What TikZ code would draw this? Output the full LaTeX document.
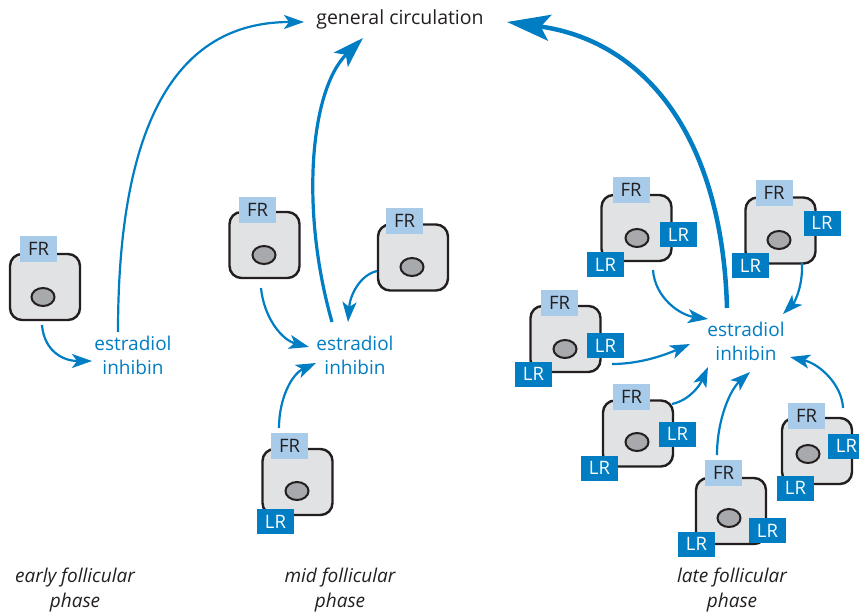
\documentclass[tikz,border=0pt]{standalone}
\usepackage{fontspec}
\setmainfont{Open Sans}
\usetikzlibrary{arrows.meta,shapes.geometric}
\definecolor{hblue}{RGB}{0,125,195}
\definecolor{frblue}{RGB}{168,203,233}
\definecolor{cellgray}{RGB}{225,226,227}
\definecolor{nucgray}{RGB}{167,169,172}
\definecolor{ink}{RGB}{35,31,32}
\begin{document}
\begin{tikzpicture}[x=1pt,y=-1pt,
  cellbox/.style={draw=ink, line width=2.4pt, fill=cellgray, rounded corners=12pt, minimum width=70pt, minimum height=66pt, inner sep=0pt},
  nuc/.style={draw=ink, line width=2pt, fill=nucgray, ellipse, minimum width=23pt, minimum height=18pt, inner sep=0pt},
  frbox/.style={fill=frblue, text=ink, minimum width=37pt, minimum height=26pt, inner sep=0pt, font=\fontsize{18.5}{18.5}\selectfont},
  lrbox/.style={fill=hblue, text=white, minimum width=37pt, minimum height=25pt, inner sep=0pt, font=\fontsize{18.5}{18.5}\selectfont},
  hormone/.style={text=hblue, align=center, inner sep=0pt, font=\fontsize{19}{24}\selectfont},
  phase/.style={text=ink, align=center, inner sep=0pt, font=\fontsize{19}{25}\selectfont\itshape},
  flow/.style={draw=hblue, line width=2.2pt, -{Stealth[length=20pt,width=14pt,inset=5pt]}},
  midflow/.style={draw=hblue, line width=3.2pt, -{Stealth[length=31pt,width=20pt,inset=7pt]}},
  lateflow/.style={draw=hblue, line width=4.5pt, -{Stealth[length=43pt,width=26pt,inset=9pt]}}
]
\useasboundingbox (0,0) rectangle (859,615);

% ---- title
\node[text=ink, inner sep=0pt, font=\fontsize{19.5}{19.5}\selectfont] (gc) at (400,19) {general circulation};

% ---- early follicular
\node[cellbox] (cE) at (45,287) {};
\node[nuc] (nE) at (43,297) {};
\node[frbox] (fE) at (38.5,249) {FR};
\node[hormone] (hE) at (133,355) {estradiol\\inhibin};

% ---- mid follicular
\node[cellbox] (cMA) at (264.5,245) {};
\node[nuc] (nMA) at (264,255) {};
\node[frbox] (fMA) at (257.5,209.5) {FR};

\node[cellbox] (cMB) at (413,257.5) {};
\node[nuc] (nMB) at (412,267) {};
\node[frbox] (fMB) at (404.5,220.5) {FR};

\node[cellbox] (cMC) at (297.5,482) {};
\node[nuc] (nMC) at (297,491) {};
\node[frbox] (fMC) at (289.5,446) {FR};
\node[lrbox] (lMC) at (275.5,521.5) {LR};

\node[hormone] (hM) at (355,355) {estradiol\\inhibin};

% ---- late follicular
\node[cellbox] (cL1) at (636.5,228) {};
\node[nuc] (nL1) at (637,238) {};
\node[frbox] (fL1) at (631,189.5) {FR};
\node[lrbox] (rL1) at (678.5,234.5) {LR};
\node[lrbox] (bL1) at (605.5,264.5) {LR};

\node[cellbox] (cL2) at (780.5,230.5) {};
\node[nuc] (nL2) at (779,240) {};
\node[frbox] (fL2) at (774,193) {FR};
\node[lrbox] (rL2) at (822,223) {LR};
\node[lrbox] (bL2) at (750.5,265.5) {LR};

\node[cellbox] (cL3) at (565.5,339) {};
\node[nuc] (nL3) at (565,349) {};
\node[frbox] (fL3) at (559.5,303) {FR};
\node[lrbox] (rL3) at (605.5,345.5) {LR};
\node[lrbox] (bL3) at (533.5,374) {LR};

\node[cellbox] (cL4) at (638,433.5) {};
\node[nuc] (nL4) at (637,442) {};
\node[frbox] (fL4) at (631.5,396.5) {FR};
\node[lrbox] (rL4) at (677.5,434) {LR};
\node[lrbox] (bL4) at (599.5,468) {LR};

\node[cellbox] (cL5) at (731,511) {};
\node[nuc] (nL5) at (729,518) {};
\node[frbox] (fL5) at (723.5,473) {FR};
\node[lrbox] (rL5) at (767.5,530.5) {LR};
\node[lrbox] (bL5) at (696.5,544) {LR};

\node[cellbox] (cL6) at (817,451) {};
\node[nuc] (nL6) at (808,454) {};
\node[frbox] (fL6) at (806.5,416) {FR};
\node[lrbox] (rL6) at (846.5,446) {LR};
\node[lrbox] (bL6) at (795.5,488) {LR};

\node[hormone] (hL) at (746,341) {estradiol\\inhibin};

% ---- phase labels
\node[phase] (pE) at (75,590) {early follicular\\phase};
\node[phase] (pM) at (340,590) {mid follicular\\phase};
\node[phase] (pL) at (732,590) {late follicular\\phase};

% ---- connector end points
\coordinate (sE1) at (42,325);   \coordinate (tE1) at (92,361);
\coordinate (sE2) at (118,332);  \coordinate (tE2) at (304,22);
\coordinate (sMA) at (261,288);  \coordinate (tMA) at (309,347);
\coordinate (sMB) at (377,271);  \coordinate (tMB) at (348,322);
\coordinate (sMC) at (279,428);  \coordinate (tMC) at (316,363);
\coordinate (sMT) at (332,322);  \coordinate (tMT) at (363,38);
\coordinate (sL1) at (653,270);  \coordinate (tL1) at (708,319);
\coordinate (sL2) at (802,263);  \coordinate (tL2) at (783,314);
\coordinate (sL3) at (612,364);  \coordinate (tL3) at (690,344);
\coordinate (sL4) at (672,404);  \coordinate (tL4) at (708,367);
\coordinate (sL5) at (717,455);  \coordinate (tL5) at (750,372);
\coordinate (sL6) at (843,408);  \coordinate (tL6) at (790,357);
\coordinate (sLT) at (727,308);  \coordinate (tLT) at (507,22);

% ---- connectors
\draw[flow] (sE1) .. controls (44,350) and (62,361) .. (tE1);
\draw[flow] (sE2) .. controls (118,100) and (190,22) .. (tE2);

\draw[flow] (sMA) .. controls (264,318) and (282,340) .. (tMA);
\draw[flow] (sMB) .. controls (360,275) and (350,295) .. (tMB);
\draw[flow] (sMC) .. controls (279,398) and (292,374) .. (tMC);
\draw[midflow] (sMT) .. controls (300,210) and (310,90) .. (tMT);

\draw[flow] (sL1) .. controls (655,298) and (680,315) .. (tL1);
\draw[flow] (sL2) .. controls (803,285) and (795,302) .. (tL2);
\draw[flow] (sL3) .. controls (640,364) and (665,355) .. (tL3);
\draw[flow] (sL4) .. controls (690,400) and (700,385) .. (tL4);
\draw[flow] (sL5) .. controls (717,420) and (730,390) .. (tL5);
\draw[flow] (sL6) .. controls (842,385) and (820,364) .. (tL6);
\draw[lateflow] (sLT) .. controls (722,130) and (640,40) .. (tLT);
\end{tikzpicture}
\end{document}
